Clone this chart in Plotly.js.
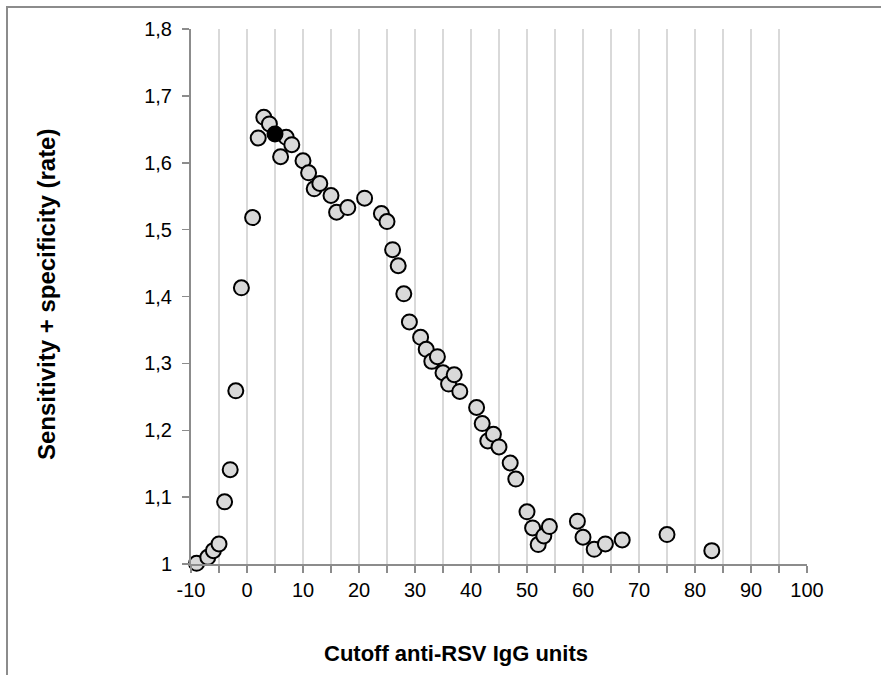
<!DOCTYPE html>
<html>
<head>
<meta charset="utf-8">
<script src="https://cdn.plot.ly/plotly-3.0.1.min.js"></script>
<style>
  html, body { margin: 0; padding: 0; background: #fff; }
  #chart { width: 881px; height: 675px; position: absolute; left: 0; top: 0; }
  #frame { position: absolute; left: 6px; top: 6px; width: 875px; height: 669px;
           border-top: 2px solid #8c8c8c; border-left: 2px solid #8c8c8c; pointer-events: none; }
</style>
</head>
<body>
<div id="chart"></div>
<div id="frame"></div>
<script>
// Cutoff anti-RSV IgG units
const cutoff = [-9, -7, -6, -5, -4, -3, -2, -1, 1, 2, 3, 4, 6, 7, 8, 10, 11, 12, 13, 15, 16, 18, 21, 24, 25, 26, 27, 28, 29, 31, 32, 33, 34, 35, 36, 37, 38, 41, 42, 43, 44, 45, 47, 48, 50, 51, 52, 53, 54, 59, 60, 62, 64, 67, 75, 83];
// Sensitivity + specificity
const sensSpec = [1.001, 1.010, 1.020, 1.030, 1.093, 1.141, 1.259, 1.413, 1.518, 1.637, 1.668, 1.658, 1.609, 1.638, 1.627, 1.603, 1.585, 1.561, 1.569, 1.551, 1.526, 1.533, 1.547, 1.524, 1.512, 1.470, 1.446, 1.404, 1.362, 1.339, 1.321, 1.303, 1.310, 1.286, 1.269, 1.283, 1.258, 1.234, 1.210, 1.184, 1.194, 1.175, 1.151, 1.127, 1.078, 1.054, 1.029, 1.042, 1.056, 1.064, 1.040, 1.022, 1.030, 1.036, 1.044, 1.020];
// Optimal cutoff (highlighted)
const optimalCutoff = [5];
const optimalValue = [1.643];

const yTickVals = [1, 1.1, 1.2, 1.3, 1.4, 1.5, 1.6, 1.7, 1.8];
const yTickText = ['1', '1,1', '1,2', '1,3', '1,4', '1,5', '1,6', '1,7', '1,8'];
const xTickVals = [-10, 0, 10, 20, 30, 40, 50, 60, 70, 80, 90, 100];
const xTickText = ['-10', '0', '10', '20', '30', '40', '50', '60', '70', '80', '90', '100'];

const font = 'Liberation Sans, Arial, sans-serif';

const traces = [
  {
    x: cutoff, y: sensSpec, type: 'scatter', mode: 'markers',
    marker: { size: 15, color: '#d9d9d9', line: { color: '#000', width: 2 } },
    cliponaxis: false, hoverinfo: 'x+y'
  },
  {
    x: optimalCutoff, y: optimalValue, type: 'scatter', mode: 'markers',
    marker: { size: 15, color: '#000', line: { color: '#000', width: 2 } },
    cliponaxis: false, hoverinfo: 'x+y'
  }
];

const layout = {
  width: 881, height: 675,
  margin: { l: 191, r: 74, t: 29, b: 111, pad: 0 },
  paper_bgcolor: '#fff', plot_bgcolor: '#fff',
  showlegend: false,
  font: { family: font, size: 20, color: '#000' },
  xaxis: {
    range: [-10, 100], tickmode: 'array', tickvals: xTickVals, ticktext: xTickText,
    showgrid: false, zeroline: false,
    showline: true, linecolor: '#8c8c8c', linewidth: 2,
    ticks: 'outside', ticklen: 7, tickwidth: 1.5, tickcolor: '#8c8c8c',
    minor: { dtick: 5, ticks: 'outside', ticklen: 7, tickwidth: 1.5, tickcolor: '#8c8c8c',
             showgrid: true, gridcolor: '#d9d9d9', gridwidth: 1.5 },
    tickfont: { family: font, size: 20, color: '#000' },
    fixedrange: true
  },
  yaxis: {
    range: [1, 1.8], tickmode: 'array', tickvals: yTickVals, ticktext: yTickText,
    showgrid: false, zeroline: false,
    showline: true, linecolor: '#8c8c8c', linewidth: 2,
    ticks: 'outside', ticklen: 7, tickwidth: 1.5, tickcolor: '#8c8c8c',
    tickfont: { family: font, size: 20, color: '#000' },
    ticklabelstandoff: 6,
    fixedrange: true
  },
  annotations: [
    { text: '<b>Cutoff anti-RSV IgG units</b>', xref: 'paper', yref: 'paper',
      x: (456 - 191) / 616, y: -(653 - 564) / 535, xanchor: 'center', yanchor: 'middle',
      showarrow: false, font: { family: font, size: 22, color: '#000' } },
    { text: '<b>Sensitivity + specificity (rate)</b>', xref: 'paper', yref: 'paper',
      x: -(191 - 46) / 616, y: (564 - 295) / 535, xanchor: 'center', yanchor: 'middle', textangle: -90,
      showarrow: false, font: { family: font, size: 24, color: '#000' } }
  ]
};

Plotly.newPlot('chart', traces, layout, { displayModeBar: false, staticPlot: true });
</script>
</body>
</html>
